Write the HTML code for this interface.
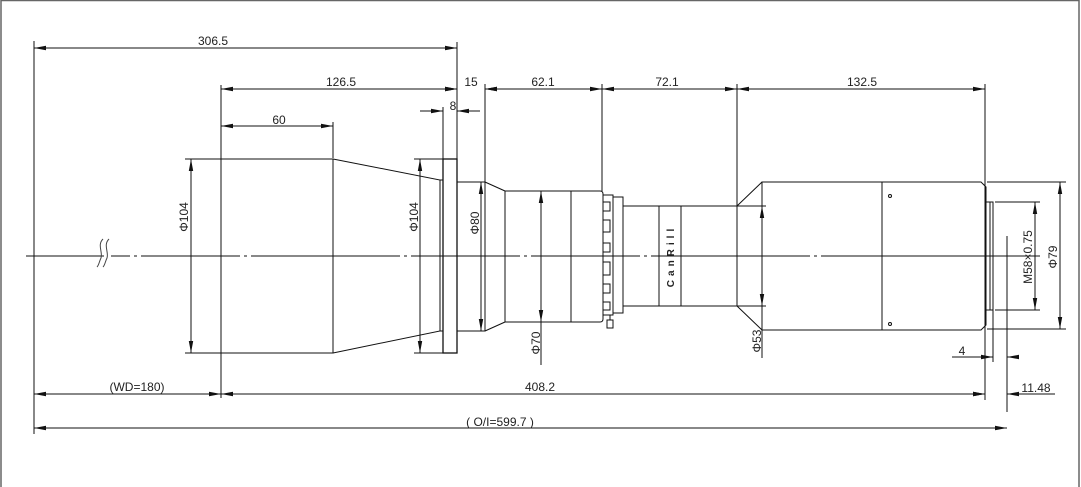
<!DOCTYPE html>
<html><head><meta charset="utf-8"><style>
html,body{margin:0;padding:0;background:#fff;}
svg{display:block;}
text{font-family:"Liberation Sans",sans-serif;font-size:12px;fill:#222;}
</style></head><body>
<svg width="1081" height="487" viewBox="0 0 1081 487" xmlns="http://www.w3.org/2000/svg">
<defs>
<marker id="a" viewBox="0 -3 12 6" refX="12" refY="0" markerWidth="12" markerHeight="6" markerUnits="userSpaceOnUse" orient="auto-start-reverse"><path d="M0,-2.2 L12,0 L0,2.2z" fill="#111"/></marker>
</defs>
<rect x="1" y="0.5" width="1078" height="490" fill="none" stroke="#666" stroke-width="1.5"/>
<g stroke="#111" stroke-width="1" fill="none">
<path d="M26,256 H104 M111,256 H130 M134,256 H137 M141,256 H240 M244,256 H247 M251,256 H400 M404,256 H407 M411,256 H520 M524,256 H527 M531,256 H640 M644,256 H647 M651,256 H810 M814,256 H817 M821,256 H1040"/>
<path d="M103,239 C97,245 103,252 101,258 C99,262 99,265 97,267 M109,239 C103,245 109,252 107,258 C105,262 105,265 103,267" stroke="#444"/>
<path d="M34,41 V434 M221,85 V398 M333,122 V158 M443,107 V159 M457,42 V159 M485,84 V182 M602,84 V191 M737,84 V206 M985,84 V400 M993,310 V362 M1007,236 V412"/>
<path d="M185,159 H221 M185,353 H221 M414,159 H443 M414,353 H443 M475,182 H485 M475,331 H485 M737,206 H766 M737,306 H766 M995,202 H1040 M995,310 H1040 M987,182 H1066 M987,329 H1066"/>
<rect x="221" y="159" width="112" height="194"/>
<path d="M333,159 L440,180 V331 L333,353"/>
<rect x="440" y="180" width="3" height="151"/>
<rect x="443" y="159" width="14" height="194" stroke-width="1.3"/>
<rect x="457" y="182" width="28" height="149"/>
<path d="M485,182 L505,191 V322 L485,331"/>
<path d="M505,191 H600 Q603,191 603,194 V319 Q603,322 600,322 H505 M571,191 V322"/>
<rect x="603" y="195" width="10" height="120"/>
<path d="M603,202 H610 V211 H603 M603,220 H610 V232 H603 M603,243 H610 V252 H603 M603,262 H610 V275 H603 M603,284 H610 V293 H603 M603,302 H610 V310 H603"/>
<rect x="613" y="197" width="10" height="116"/>
<rect x="607" y="320" width="6" height="8"/>
<path d="M610,315 V320"/>
<rect x="623" y="206" width="114" height="100"/>
<path d="M659,206 V306 M681,206 V306"/>
<path d="M737,206 L762,182 M737,306 L762,330"/>
<rect x="762" y="182" width="120" height="148"/>
<path d="M882,182 H981 L986,187 V325 L981,330 H882"/>
<rect x="986" y="202" width="7" height="108"/>
<path d="M990,202 V310"/>
<circle cx="890" cy="196" r="1.5"/><circle cx="890" cy="324" r="1.5"/>
</g>
<g stroke="#111" stroke-width="1" fill="none" marker-start="url(#a)" marker-end="url(#a)">
<line x1="34" y1="48" x2="457" y2="48"/>
<line x1="221" y1="89" x2="457" y2="89"/>
<line x1="485" y1="89" x2="602" y2="89"/>
<line x1="602" y1="89" x2="737" y2="89"/>
<line x1="737" y1="89" x2="985" y2="89"/>
<line x1="221" y1="126" x2="333" y2="126"/>
<line x1="191" y1="159" x2="191" y2="353"/>
<line x1="420" y1="159" x2="420" y2="353"/>
<line x1="481" y1="182" x2="481" y2="331"/>
<line x1="541" y1="191" x2="541" y2="322"/>
<line x1="762" y1="206" x2="762" y2="306"/>
<line x1="1035" y1="202" x2="1035" y2="310"/>
<line x1="1060" y1="182" x2="1060" y2="329"/>
<line x1="34" y1="394" x2="221" y2="394"/>
<line x1="221" y1="394" x2="985" y2="394"/>
<line x1="34" y1="428" x2="1007" y2="428"/>
</g>
<g stroke="#111" stroke-width="1" fill="none">
<path d="M541,322 V365 M762,306 V358"/>
<line x1="445" y1="89" x2="457" y2="89" marker-end="url(#a)"/>
<line x1="500" y1="89" x2="485" y2="89" marker-end="url(#a)"/>
<line x1="420" y1="111" x2="443" y2="111" marker-end="url(#a)"/>
<line x1="480" y1="111" x2="457" y2="111" marker-end="url(#a)"/>
<line x1="952" y1="357" x2="993" y2="357" marker-end="url(#a)"/>
<line x1="1017" y1="357" x2="1007" y2="357" marker-end="url(#a)"/>
<line x1="970" y1="394" x2="985" y2="394" marker-end="url(#a)"/>
<line x1="1055" y1="394" x2="1007" y2="394" marker-end="url(#a)"/>
</g>
<text x="213" y="45" text-anchor="middle">306.5</text>
<text x="341" y="86" text-anchor="middle">126.5</text>
<text x="471" y="86" text-anchor="middle">15</text>
<text x="543" y="86" text-anchor="middle">62.1</text>
<text x="667" y="86" text-anchor="middle">72.1</text>
<text x="862" y="86" text-anchor="middle">132.5</text>
<text x="453" y="110" text-anchor="middle">8</text>
<text x="279" y="124" text-anchor="middle">60</text>
<text x="137" y="391" text-anchor="middle">(WD=180)</text>
<text x="540" y="391" text-anchor="middle">408.2</text>
<text x="1036" y="392" text-anchor="middle">11.48</text>
<text x="962" y="355" text-anchor="middle">4</text>
<text x="500" y="426" text-anchor="middle">( O/I=599.7 )</text>
<text transform="translate(188,217) rotate(-90)" text-anchor="middle">Φ104</text>
<text transform="translate(418,217) rotate(-90)" text-anchor="middle">Φ104</text>
<text transform="translate(479,223) rotate(-90)" text-anchor="middle">Φ80</text>
<text transform="translate(540,343) rotate(-90)" text-anchor="middle">Φ70</text>
<text transform="translate(761,341) rotate(-90)" text-anchor="middle">Φ53</text>
<text transform="translate(1032,257) rotate(-90)" text-anchor="middle">M58×0.75</text>
<text transform="translate(1057,257) rotate(-90)" text-anchor="middle">Φ79</text>
<text transform="translate(674,256) rotate(-90)" text-anchor="middle" style="font-size:10px;font-weight:bold;letter-spacing:4px">CanRill</text>
</svg>
</body></html>
